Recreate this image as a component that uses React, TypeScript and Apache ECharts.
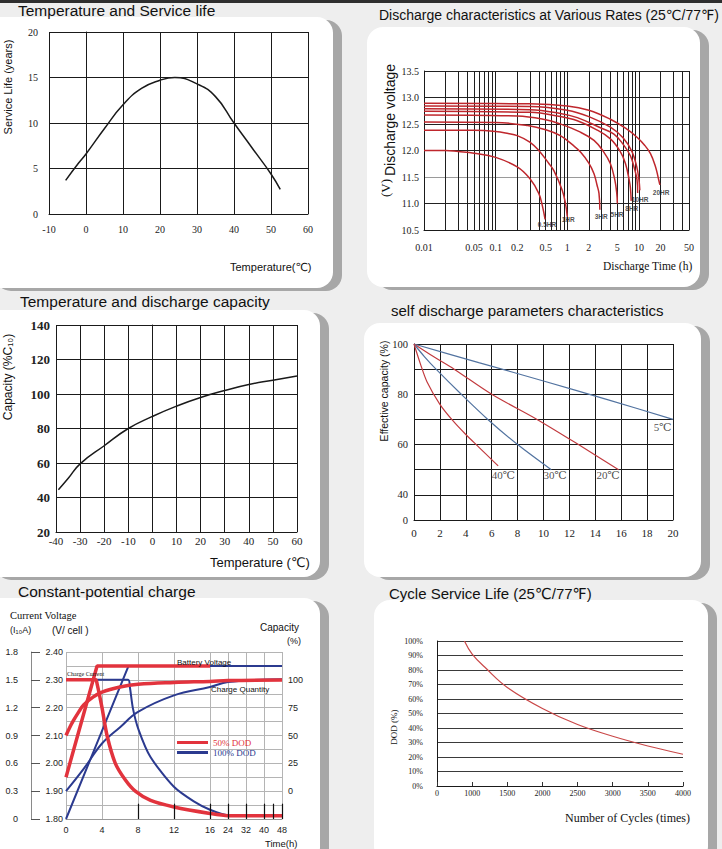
import React, { useEffect, useRef } from 'react';
import * as echarts from 'echarts';

const SANS = '"Liberation Sans", Arial, "DejaVu Sans", sans-serif';
const SERIF = '"Liberation Serif", "Times New Roman", "DejaVu Serif", serif';

// ---------- Panel 1: Temperature and Service life ----------
const lifeTemps = [-5.5, -2, 0, 5, 10, 15, 20, 24, 30, 35, 40, 45, 50, 52.5];
const lifeYears = [3.7, 5.6, 6.6, 9.4, 12.0, 13.8, 14.7, 15.0, 14.3, 12.9, 10.0, 7.2, 4.4, 2.7];

// ---------- Panel 2: Discharge characteristics (log time axis) ----------
const dischargeGridTimes = [0.01, 0.02, 0.03, 0.04, 0.05, 0.06, 0.07, 0.08, 0.09, 0.1, 0.2, 0.3, 0.4, 0.5, 0.6, 0.7, 0.8, 0.9, 1, 2, 3, 4, 5, 6, 7, 8, 9, 10, 20, 30, 40, 50];
const dischargeTimeLabels = [0.01, 0.05, 0.1, 0.2, 0.5, 1, 2, 5, 10, 20, 50];
const curve05HR = [[0.01, 12.0], [0.02, 12.0], [0.03, 11.98], [0.05, 11.95], [0.1, 11.87], [0.2, 11.69], [0.3, 11.47], [0.4, 11.19], [0.45, 10.95], [0.49, 10.7]];
const curve1HR = [[0.01, 12.38], [0.05, 12.38], [0.1, 12.36], [0.15, 12.32], [0.2, 12.28], [0.3, 12.16], [0.4, 12.0], [0.55, 11.76], [0.65, 11.62], [0.85, 11.25], [0.95, 10.98], [1.0, 10.75]];
const curve3HR = [[0.01, 12.54], [0.1, 12.53], [0.28, 12.47], [0.5, 12.39], [0.8, 12.28], [1.2, 12.1], [1.53, 11.97], [2.0, 11.76], [2.36, 11.56], [2.6, 11.35], [2.77, 11.19], [2.85, 10.88]];
const curve5HR = [[0.01, 12.67], [0.2, 12.65], [0.5, 12.58], [0.8, 12.5], [1.5, 12.35], [2.36, 12.19], [3.2, 11.98], [4.0, 11.75], [4.6, 11.45], [4.9, 11.2], [5.0, 11.0]];
const curve8HR = [[0.01, 12.74], [0.3, 12.72], [0.8, 12.64], [1.38, 12.56], [2.5, 12.4], [4.0, 12.22], [5.5, 11.98], [6.5, 11.75], [7.3, 11.45], [7.6, 11.3], [7.8, 11.05]];
const curve10HR = [[0.01, 12.79], [0.3, 12.77], [0.8, 12.7], [1.38, 12.62], [3.0, 12.42], [4.48, 12.31], [6.0, 12.12], [7.6, 11.9], [8.7, 11.65], [9.4, 11.45], [9.6, 11.2]];
const curveUpper = [[0.01, 12.84], [0.3, 12.83], [1.0, 12.76], [2.0, 12.64], [4.0, 12.44], [6.0, 12.24], [8.0, 11.98], [9.3, 11.7], [10.0, 11.45], [10.3, 11.25]];
const curve20HR = [[0.01, 12.89], [0.3, 12.88], [1.0, 12.84], [2.0, 12.76], [4.0, 12.59], [6.5, 12.42], [9.4, 12.25], [12, 12.1], [14.5, 11.94], [17, 11.7], [18.5, 11.5], [19.6, 11.35]];
const rateLabelNames = ['0.5HR', '1HR', '3HR', '5HR', '8HR', '10HR', '20HR'];
const rateLabelTimes = [0.52, 1.03, 2.97, 4.95, 7.95, 10.4, 20.4];
const rateLabelVolts = [10.6, 10.69, 10.75, 10.8, 10.9, 11.08, 11.2];

// ---------- Panel 3: Temperature and discharge capacity ----------
const capTemps = [-39, -35, -30, -20, -10, 0, 10, 20, 30, 40, 50, 60];
const capValues = [44.5, 51, 59.5, 70, 80, 87, 93, 98, 102, 105.5, 108, 110.5];

// ---------- Panel 4: self discharge ----------
const self5C = [[0, 100], [5, 92.6], [10, 85.3], [15, 77.8], [20, 70]];
const self20C = [[0, 100], [1.5, 95], [3.1, 90], [6, 80], [9.5, 70], [12.7, 60], [15.8, 50]];
const self30C = [[0, 100], [0.8, 95], [1.7, 90], [3.65, 80], [5.7, 70], [8, 60], [10.6, 50]];
const self40C = [[0, 100], [0.5, 92], [1, 85], [2, 76], [3, 69.5], [4, 64], [5, 59], [6, 54], [6.5, 51.5]];
const selfLabelNames = ['40℃', '30℃', '20℃', '5℃'];
const selfLabelMonths = [6.9, 10.9, 15.0, 19.2];
const selfLabelCaps = [47.9, 47.9, 47.9, 67.1];
const selfCapTickLabels = [30, 40, 60, 80, 100];

// ---------- Panel 5: Constant-potential charge ----------
const chargeTickHours = [0, 4, 8, 12, 16, 24, 32, 40, 48];
const chargeMarkHours = [8, 12, 16, 24, 32, 40, 44, 48];
const chargeMarkTopVolt = 1.855;
const voltageTickLabels = [1.8, 1.9, 2.0, 2.1, 2.2, 2.3, 2.4];
const capacityTickLabels = [0, 25, 50, 75, 100];
const voltage50 = [[0, 1.95], [3.45, 2.35], [16, 2.35]];
const current50 = [[0, 1.5], [3.3, 1.5], [3.45, 1.46], [4.0, 1.2], [4.56, 0.9], [5.48, 0.6], [6.6, 0.42], [7.7, 0.3], [9.4, 0.2], [12, 0.13], [16, 0.06], [24, 0.036], [48, 0.036]];
const quantity50 = [[0, 50], [0.4, 57], [0.85, 63.7], [1.4, 71], [1.96, 77.5], [3, 84.5], [4, 89], [6, 93.5], [8, 96], [12, 97.7], [16, 98.6], [24, 99.3], [48, 99.8]];
const voltage100 = [[0, 1.8], [6.95, 2.35], [48, 2.35]];
const current100 = [[0, 1.5], [6.9, 1.5], [7.1, 1.42], [7.44, 1.19], [8.07, 0.96], [9.37, 0.67], [11.96, 0.35], [14.2, 0.19], [16, 0.1], [24, 0.04], [48, 0.035]];
const quantity100 = [[0, 0], [1.96, 20], [4, 42.8], [6.04, 57.7], [8, 71.2], [12, 86], [16, 93.5], [24, 98], [48, 100.5]];

// ---------- Panel 6: Cycle Service Life ----------
const cycleCounts = [890, 1000, 1200, 1500, 2000, 2500, 3000, 3500, 4000];
const cycleDOD = [100, 91, 81, 68, 53.5, 42.4, 34.3, 27.6, 21.9];

// piecewise time axis of panel 5: 4 h per unit up to 16 h, 16 h per unit beyond
const timePos = (h: number) => (h <= 16 ? h / 4 : 4 + (h - 16) / 16);
const chargeTickPos = chargeTickHours.map(timePos);
const chargeMarkPos = chargeMarkHours.map(timePos);

const RED5 = '#e2333d';
const BLUE5 = '#2b3a8f';
const DRED = '#bf272d';
const RED4 = '#c23b3f';
const BLUE4 = '#5273a0';
const BLACK = '#1a1a1a';

function fmtNum(v: number) {
  return String(parseFloat(Number(v).toPrecision(3)));
}

function text(x: number, y: number, t: string, font: string, opt: any = {}) {
  return {
    type: 'text',
    x,
    y,
    z: 50,
    rotation: opt.rot || 0,
    silent: true,
    style: {
      text: t,
      font,
      fill: opt.color || '#111',
      align: opt.align || 'left',
      verticalAlign: 'middle',
    },
  };
}

function buildOption() {
  const panels = [
    { x: -14, y: 17, w: 347, h: 271 },
    { x: 367, y: 27, w: 333, h: 260 },
    { x: -14, y: 310, w: 334, h: 267 },
    { x: 364, y: 323, w: 337, h: 254 },
    { x: -14, y: 598, w: 334, h: 265 },
    { x: 374, y: 600, w: 334, h: 262 },
  ];
  const bg: any[] = [];
  panels.forEach((p) => {
    bg.push({ type: 'rect', z: -20, silent: true, shape: { x: p.x + 9, y: p.y + 3, width: p.w, height: p.h, r: 16 }, style: { fill: '#a7a7a7' } });
    bg.push({ type: 'rect', z: -19, silent: true, shape: { x: p.x, y: p.y, width: p.w, height: p.h, r: 16 }, style: { fill: '#ffffff' } });
  });
  bg.push({ type: 'rect', z: -18, silent: true, shape: { x: 0, y: 0, width: 722, height: 3 }, style: { fill: '#2e2e2e' } });

  const texts = [
    text(18, 10, 'Temperature and Service life', `15.5px ${SANS}`),
    text(379, 14.5, 'Discharge characteristics at Various Rates (25℃/77℉)', `14px ${SANS}`),
    text(20, 301.5, 'Temperature and discharge capacity', `15.5px ${SANS}`),
    text(391, 310.5, 'self discharge parameters characteristics', `15px ${SANS}`),
    text(18, 591.5, 'Constant-potential charge', `15.5px ${SANS}`),
    text(389, 593, 'Cycle Service Life (25℃/77℉)', `15px ${SANS}`),

    text(8, 87, 'Service Life (years)', `11px ${SANS}`, { rot: Math.PI / 2, align: 'center' }),
    text(230, 267, 'Temperature(℃)', `11px ${SANS}`),

    text(389.5, 120, 'Discharge voltage', `14px ${SANS}`, { rot: Math.PI / 2, align: 'center' }),
    text(385, 188, '(V)', `13px ${SERIF}`, { rot: Math.PI / 2, align: 'center' }),
    text(603, 266, 'Discharge Time (h)', `11.5px ${SERIF}`),

    text(8, 377, 'Capacity (%C₁₀)', `12px ${SANS}`, { rot: Math.PI / 2, align: 'center' }),
    text(210, 562, 'Temperature (℃)', `13px ${SANS}`),

    text(383.5, 391, 'Effective capacity (%)', `10.5px ${SANS}`, { rot: Math.PI / 2, align: 'center' }),

    text(10, 615, 'Current Voltage', `10.5px ${SERIF}`),
    text(10, 630, '(I₁₀A)', `9px ${SANS}`),
    text(52, 630, '(V/ cell )', `10px ${SANS}`),
    text(260, 627, 'Capacity', `10px ${SANS}`),
    text(287, 641, '(%)', `9px ${SANS}`),
    text(265, 843, 'Time(h)', `9.5px ${SANS}`),
    text(177, 662, 'Battery Voltage', `8px ${SANS}`),
    text(67, 674, 'Charge Current', `6px ${SERIF}`),
    text(211, 689, 'Charge Quantity', `8px ${SANS}`),

    text(394, 727, 'DOD (%)', `9px ${SERIF}`, { rot: Math.PI / 2, align: 'center' }),
    text(565, 818, 'Number of Cycles (times)', `12px ${SERIF}`),
  ];

  const grids = [
    { left: 49, top: 32, width: 259, height: 182 },
    { left: 424, top: 71, width: 265, height: 159 },
    { left: 56, top: 325, width: 241, height: 207 },
    { left: 414, top: 344, width: 259, height: 176 },
    { left: 66, top: 652, width: 216, height: 167 },
    { left: 437, top: 641, width: 246, height: 145 },
  ].map((g) => ({ ...g, containLabel: false, outerBoundsMode: 'none', show: false }));

  const lab = (family: string, size: number, margin: number, extra: any = {}) => ({
    fontFamily: family,
    fontSize: size,
    color: '#222',
    margin,
    ...extra,
  });
  const line = (color: string) => ({ show: true, lineStyle: { color, width: 1 } });
  const split = (color: any) => ({ show: true, lineStyle: { color, width: 1 } });

  const xAxis: any[] = [
    { gridIndex: 0, type: 'value', min: -10, max: 60, interval: 10, axisLine: line(BLACK), axisTick: { show: false }, axisLabel: lab(SERIF, 10, 10), splitLine: split(BLACK) },
    {
      gridIndex: 1, type: 'log', logBase: 10, min: 0.01, max: 50,
      axisLine: line(BLACK),
      axisTick: { show: false, customValues: dischargeGridTimes },
      axisLabel: { ...lab(SERIF, 10, 12), customValues: dischargeTimeLabels, formatter: (v: number) => fmtNum(v) },
      splitLine: split('#1e1e1e'),
    },
    { gridIndex: 2, type: 'value', min: -40, max: 60, interval: 10, axisLine: line(BLACK), axisTick: { show: false }, axisLabel: lab(SERIF, 11, 3), splitLine: split(BLACK) },
    { gridIndex: 3, type: 'value', min: 0, max: 20, interval: 2, axisLine: line(BLACK), axisTick: { show: false }, axisLabel: lab(SERIF, 11, 7), splitLine: split(BLACK) },
    {
      gridIndex: 4, type: 'value', min: 0, max: 6, interval: 1,
      axisLine: line('#999'),
      axisTick: { show: false, customValues: chargeTickPos },
      axisLabel: {
        ...lab(SANS, 9, 6),
        customValues: chargeTickPos,
        formatter: (v: number) => {
          const i = chargeTickPos.findIndex((p) => Math.abs(p - v) < 1e-6);
          return i >= 0 ? String(chargeTickHours[i]) : '';
        },
      },
      splitLine: split('#b4b4b4'),
    },
    {
      gridIndex: 5, type: 'value', min: 500, max: 4000, interval: 500,
      axisLine: line(BLACK),
      axisTick: { show: true, inside: true, length: 4, lineStyle: { color: '#333' } },
      axisLabel: { ...lab(SERIF, 8, 3), formatter: (v: number) => (v === 500 ? '0' : String(v)) },
      splitLine: { show: false },
    },
  ];

  const yAxis: any[] = [
    { gridIndex: 0, type: 'value', min: 0, max: 20, interval: 5, axisLine: line(BLACK), axisTick: { show: false }, axisLabel: lab(SERIF, 10, 11), splitLine: split(BLACK) },
    {
      gridIndex: 1, type: 'value', min: 10.5, max: 13.5, interval: 0.5,
      axisLine: line(BLACK), axisTick: { show: false },
      axisLabel: { ...lab(SERIF, 10, 5), formatter: (v: number) => v.toFixed(1) },
      splitLine: split(['#222', '#222', '#9a9a9a', '#222', '#222', '#222', '#222']),
    },
    { gridIndex: 2, type: 'value', min: 20, max: 140, interval: 20, axisLine: line(BLACK), axisTick: { show: false }, axisLabel: lab(SERIF, 13, 6, { fontWeight: 'bold' }), splitLine: split(BLACK) },
    {
      gridIndex: 3, type: 'value', min: 30, max: 100, interval: 10,
      axisLine: line(BLACK), axisTick: { show: false },
      axisLabel: { ...lab(SERIF, 10.5, 6), customValues: selfCapTickLabels, formatter: (v: number) => (v === 30 ? '0' : String(v)) },
      splitLine: split(BLACK),
    },
    {
      gridIndex: 4, type: 'value', min: 1.8, max: 2.4, interval: 0.05,
      axisLine: { show: false }, axisTick: { show: false },
      axisLabel: { ...lab(SANS, 9, 3), customValues: voltageTickLabels, formatter: (v: number) => v.toFixed(2) },
      splitLine: split('#b4b4b4'),
    },
    {
      gridIndex: 4, type: 'value', position: 'left', offset: 35, min: 0, max: 1.8, interval: 0.3,
      axisLine: { show: true, onZero: false, lineStyle: { color: '#8a8a8a', width: 1 } },
      axisTick: { show: true, inside: true, length: 9, lineStyle: { color: '#555' } },
      axisLabel: { ...lab(SANS, 9, 13), formatter: (v: number) => (v === 0 ? '0' : v.toFixed(1)) },
      splitLine: { show: false },
    },
    {
      gridIndex: 4, type: 'value', position: 'right', min: -25, max: 125, interval: 25,
      axisLine: { show: false }, axisTick: { show: false },
      axisLabel: { ...lab(SANS, 9, 6), customValues: capacityTickLabels },
      splitLine: { show: false },
    },
    {
      gridIndex: 5, type: 'value', min: 0, max: 100, interval: 10,
      axisLine: line(BLACK), axisTick: { show: false },
      axisLabel: { ...lab(SERIF, 8, 14), formatter: (v: number) => v + '%' },
      splitLine: split('#3a3a3a'),
    },
  ];

  const base = { type: 'line', symbol: 'none', silent: true, animation: false };
  const zip = (a: number[], b: number[]) => a.map((v, i) => [v, b[i]]);

  const rateCurves = [
    { name: '0.5HR', d: curve05HR },
    { name: '1HR', d: curve1HR },
    { name: '3HR', d: curve3HR },
    { name: '5HR', d: curve5HR },
    { name: '8HR', d: curve8HR },
    { name: '10HR', d: curve10HR },
    { name: 'upper', d: curveUpper },
    { name: '20HR', d: curve20HR },
  ];

  const series: any[] = [
    { ...base, name: 'Service life', xAxisIndex: 0, yAxisIndex: 0, smooth: 0.5, data: zip(lifeTemps, lifeYears), lineStyle: { color: BLACK, width: 1.5 } },

    ...rateCurves.map((c) => ({ ...base, name: c.name, xAxisIndex: 1, yAxisIndex: 1, smooth: 0.4, data: c.d, lineStyle: { color: DRED, width: 1.5 } })),
    {
      type: 'scatter', name: 'rate labels', xAxisIndex: 1, yAxisIndex: 1, silent: true, symbolSize: 1,
      itemStyle: { color: 'rgba(0,0,0,0)' },
      data: rateLabelNames.map((n, i) => [rateLabelTimes[i], rateLabelVolts[i], n]),
      label: { show: true, position: 'inside', formatter: (p: any) => p.data[2], fontFamily: SANS, fontSize: 6.5, fontWeight: 'bold', color: '#222' },
    },

    { ...base, name: 'Capacity', xAxisIndex: 2, yAxisIndex: 2, smooth: 0.5, data: zip(capTemps, capValues), lineStyle: { color: BLACK, width: 1.5 } },

    { ...base, name: '5℃', xAxisIndex: 3, yAxisIndex: 3, smooth: 0.3, data: self5C, lineStyle: { color: BLUE4, width: 1.2 } },
    { ...base, name: '20℃', xAxisIndex: 3, yAxisIndex: 3, smooth: 0.3, data: self20C, lineStyle: { color: RED4, width: 1.2 } },
    { ...base, name: '30℃', xAxisIndex: 3, yAxisIndex: 3, smooth: 0.3, data: self30C, lineStyle: { color: BLUE4, width: 1.2 } },
    { ...base, name: '40℃', xAxisIndex: 3, yAxisIndex: 3, smooth: 0.3, data: self40C, lineStyle: { color: RED4, width: 1.2 } },
    {
      type: 'scatter', name: 'temp labels', xAxisIndex: 3, yAxisIndex: 3, silent: true, symbolSize: 1,
      itemStyle: { color: 'rgba(0,0,0,0)' },
      data: selfLabelNames.map((n, i) => [selfLabelMonths[i], selfLabelCaps[i], n]),
      label: { show: true, position: 'inside', formatter: (p: any) => p.data[2], fontFamily: SERIF, fontSize: 11, color: '#222' },
    },

    // blue first so the red curves lie on top
    {
      ...base, name: '100% DOD', xAxisIndex: 4, yAxisIndex: 4,
      data: voltage100.map(([h, v]) => [timePos(h), v]),
      lineStyle: { color: BLUE5, width: 2 }, itemStyle: { color: BLUE5 },
      markLine: {
        silent: true, symbol: 'none', animation: false,
        label: { show: false },
        lineStyle: { color: '#111', width: 1.2, type: 'solid' },
        data: chargeMarkPos.map((p) => [{ coord: [p, 1.8] }, { coord: [p, chargeMarkTopVolt] }]),
      },
    },
    { ...base, name: '100% DOD', xAxisIndex: 4, yAxisIndex: 5, smooth: 0.25, data: current100.map(([h, v]) => [timePos(h), v]), lineStyle: { color: BLUE5, width: 2 }, itemStyle: { color: BLUE5 } },
    { ...base, name: '100% DOD', xAxisIndex: 4, yAxisIndex: 6, smooth: 0.4, data: quantity100.map(([h, v]) => [timePos(h), v]), lineStyle: { color: BLUE5, width: 2 }, itemStyle: { color: BLUE5 } },
    { ...base, name: '50% DOD', xAxisIndex: 4, yAxisIndex: 4, data: voltage50.map(([h, v]) => [timePos(h), v]), lineStyle: { color: RED5, width: 3.5 }, itemStyle: { color: RED5 } },
    { ...base, name: '50% DOD', xAxisIndex: 4, yAxisIndex: 5, smooth: 0.25, data: current50.map(([h, v]) => [timePos(h), v]), lineStyle: { color: RED5, width: 3.5 }, itemStyle: { color: RED5 } },
    { ...base, name: '50% DOD', xAxisIndex: 4, yAxisIndex: 6, smooth: 0.4, data: quantity50.map(([h, v]) => [timePos(h), v]), lineStyle: { color: RED5, width: 3.5 }, itemStyle: { color: RED5 } },

    { ...base, name: 'DOD', xAxisIndex: 5, yAxisIndex: 7, smooth: 0.4, data: zip(cycleCounts, cycleDOD), lineStyle: { color: '#c94848', width: 1.2 } },
  ];

  return {
    animation: false,
    backgroundColor: '#eeeeee',
    textStyle: { fontFamily: SANS },
    grid: grids,
    xAxis,
    yAxis,
    legend: {
      show: true,
      orient: 'vertical',
      left: 177,
      top: 738,
      padding: 0,
      itemGap: 1,
      itemWidth: 31,
      itemHeight: 3,
      icon: 'rect',
      selectedMode: false,
      textStyle: { fontFamily: SERIF, fontSize: 9 },
      data: [
        { name: '50% DOD', textStyle: { color: RED5 } },
        { name: '100% DOD', textStyle: { color: BLUE5 } },
      ],
    },
    graphic: { elements: [...bg, ...texts] },
    series,
  };
}

export default function App() {
  const ref = useRef<HTMLDivElement>(null);
  useEffect(() => {
    const chart = echarts.init(ref.current as HTMLDivElement, null, { renderer: 'svg' });
    chart.setOption(buildOption() as any);
    return () => chart.dispose();
  }, []);
  return <div ref={ref} style={{ position: 'fixed', left: 0, top: 0, width: 722, height: 849 }} />;
}
